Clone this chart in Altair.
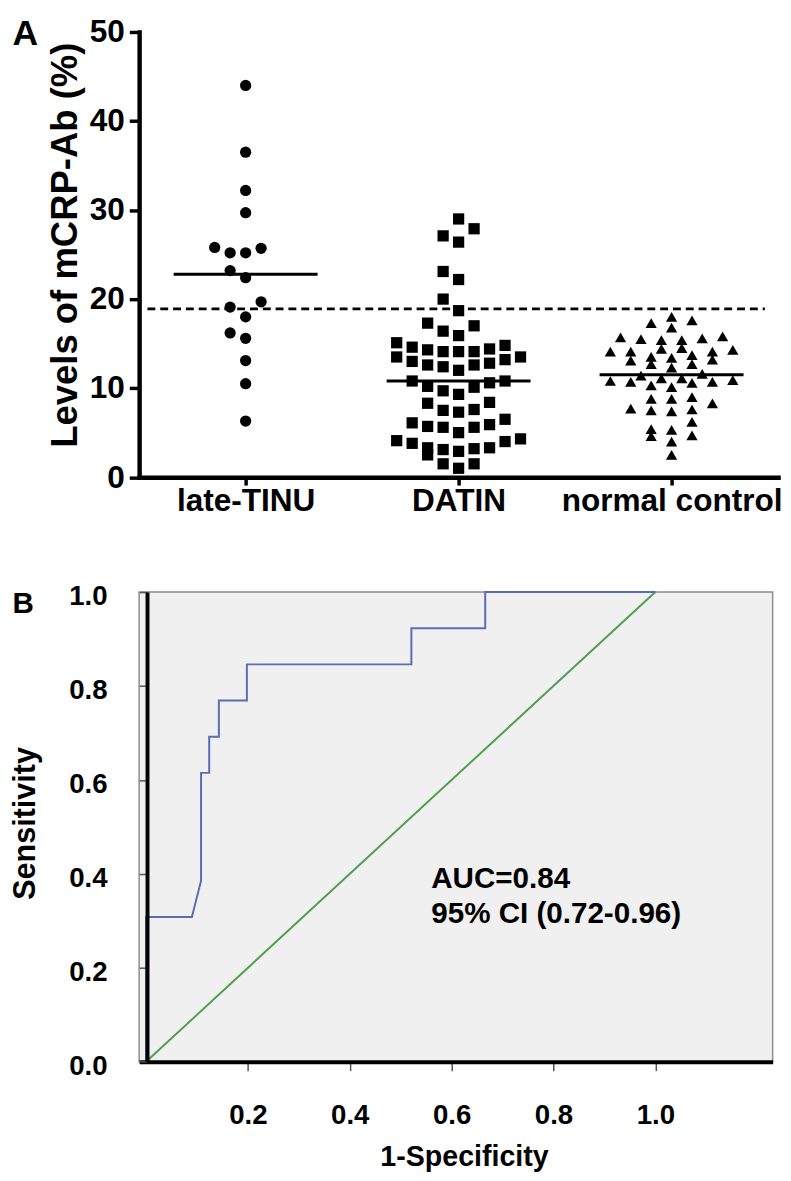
import altair as alt
import numpy as np
import pandas as pd

FONT = "Liberation Sans, Arial, Helvetica, sans-serif"

# ---------------- Panel A data ----------------
GROUPS = ["late-TINU", "DATIN", "normal control"]
LATE_TINU = [44.0, 36.5, 32.2, 29.7, 25.8, 25.7, 25.2, 25.2, 23.2, 22.4, 19.7, 19.1,
             18.0, 16.2, 15.6, 13.1, 10.5, 6.3]
DATIN = [29.0, 27.9, 27.1, 26.4, 23.1, 22.2, 20.0, 18.7, 17.3, 17.0, 16.4, 15.9,
         15.1, 14.8, 14.6, 14.4, 14.3, 14.1, 14.1, 14.1, 13.5, 13.5, 13.2, 13.0,
         12.8, 12.6, 12.6, 12.4, 12.0, 10.8, 10.8, 10.6, 10.2, 10.1, 9.7, 9.3,
         8.4, 8.3, 7.6, 7.5, 7.3, 6.5, 6.1, 5.9, 5.7, 5.6, 5.6, 5.0,
         4.3, 4.1, 4.0, 3.8, 3.3, 3.3, 3.2, 3.1, 2.9, 2.5, 1.5, 1.5, 1.0]
NORMAL_CONTROL = [18.0, 17.6, 17.3, 16.8, 15.8, 15.7, 15.6, 15.5, 15.4, 15.4,
                  14.5, 14.4, 14.3, 14.1, 14.1, 14.1, 13.7, 13.5, 13.4, 13.2,
                  13.1, 12.7, 12.7, 12.3, 11.6, 11.4, 11.1, 11.1, 10.9, 10.8,
                  10.7, 10.7, 10.6, 10.3, 10.1, 9.0, 8.8, 8.8, 8.3, 7.7,
                  7.6, 7.5, 7.4, 6.2, 5.4, 5.3, 4.7, 4.6, 4.0, 2.5]
CUTOFF = 18.9
Y_TICKS_A = [0, 10, 20, 30, 40, 50]
Y_TITLE_A = "Levels of mCRP-Ab (%)"

# ---------------- Panel B data ----------------
ROC_FPR = [0.0, 0.0, 0.090, 0.108, 0.108, 0.124, 0.124, 0.143, 0.143, 0.198,
           0.198, 0.521, 0.521, 0.666, 0.666, 1.0]
ROC_TPR = [0.0, 0.308, 0.308, 0.385, 0.615, 0.615, 0.692, 0.692, 0.769, 0.769,
           0.846, 0.846, 0.923, 0.923, 1.0, 1.0]
CHANCE_FPR = [0.0, 1.0]
CHANCE_TPR = [0.0, 1.0]
X_TICKS_B = [0.2, 0.4, 0.6, 0.8, 1.0]
Y_TICKS_B = [0.0, 0.2, 0.4, 0.6, 0.8, 1.0]
AUC_TEXT = ["AUC=0.84", "95% CI (0.72-0.96)"]
X_TITLE_B = "1-Specificity"
Y_TITLE_B = "Sensitivity"

# ---------------- layout parameters ----------------
A_W, A_H = 648, 451.5
B_W, B_H = 642.5, 476.4
PX_PER_UNIT = A_W / 3.0
# column spacing (px), row span (data units), centre even rows
SWARM = {
    "late-TINU": (15.7, 1.75, False),
    "DATIN": (15.7, 1.75, False),
    "normal control": (20.7, 1.0, True),
}
MEDIAN_HALF = 73.0 / PX_PER_UNIT
B_PX_PER_UNIT = 516.5
B_X0_PX = 7.0   # data 0 sits this many px right of the plot's left edge


def swarm_columns(values, row_span, centre_even):
    vals = np.asarray(values, dtype=float)
    order = np.argsort(vals, kind="stable")
    sv = vals[order]
    cols = np.zeros(len(vals))
    i = 0
    while i < len(sv):
        j = i
        while j < len(sv) and sv[j] - sv[i] < row_span:
            j += 1
        n = j - i
        for k in range(n):
            if centre_even and n % 2 == 0:
                m = k // 2 + 0.5
                off = -m if k % 2 == 0 else m
            else:
                m = (k + 1) // 2
                off = -m if k % 2 == 1 else m
            cols[order[i + k]] = off
        i = j
    return cols


rows = []
for gi, (g, vals) in enumerate(zip(GROUPS, [LATE_TINU, DATIN, NORMAL_CONTROL])):
    step, span, ce = SWARM[g]
    cols = swarm_columns(vals, span, ce)
    centre = gi + 0.5
    for v, c in zip(vals, cols):
        rows.append({"group": g, "value": v, "gx": centre,
                     "x": centre + c * step / PX_PER_UNIT})
df_a = pd.DataFrame(rows)

label_expr = ("datum.value < 1 ? '{0}' : datum.value < 2 ? '{1}' : '{2}'"
              .format(*GROUPS))

x_scale_a = alt.Scale(domain=[0, 3], nice=False, zero=False)
y_scale_a = alt.Scale(domain=[0, 50], nice=False)

x_axis_a = alt.Axis(values=[0.5, 1.5, 2.5], labelExpr=label_expr, grid=False,
                    domainColor="black", domainWidth=4.5, domainCap="square",
                    tickColor="black", tickWidth=3.5, tickSize=8,
                    labelFontSize=32, labelFontWeight="bold", labelPadding=1,
                    labelFlush=False, labelLimit=500)
y_axis_a = alt.Axis(values=Y_TICKS_A, grid=False,
                    domainColor="black", domainWidth=4.5, domainCap="square",
                    tickColor="black", tickWidth=3.5, tickSize=10,
                    labelFontSize=32, labelFontWeight="bold", labelPadding=5,
                    titleFontSize=37, titleFontWeight="bold",
                    titleX=-74.5, titleY=A_H / 2 - 10, titleBaseline="middle")

pts = alt.Chart(df_a).mark_point(filled=True, opacity=1, color="black",
                                 strokeWidth=0).encode(
    x=alt.X("x:Q", scale=x_scale_a, axis=x_axis_a, title=None),
    y=alt.Y("value:Q", scale=y_scale_a, axis=y_axis_a, title=Y_TITLE_A),
    shape=alt.Shape("group:N", scale=alt.Scale(
        domain=GROUPS, range=["circle", "square", "triangle-up"]), legend=None),
    size=alt.Size("group:N", scale=alt.Scale(domain=GROUPS, range=[130, 130, 215]),
                  legend=None),
)

med = alt.Chart(df_a).transform_aggregate(
    median="median(value)", groupby=["group", "gx"]
).transform_calculate(
    x1="datum.gx - %f" % MEDIAN_HALF, x2="datum.gx + %f" % MEDIAN_HALF
).mark_rule(color="black", strokeWidth=3).encode(
    x=alt.X("x1:Q", title=None), x2="x2:Q",
    y=alt.Y("median:Q", title=Y_TITLE_A),
)

cut = alt.Chart(pd.DataFrame({"cutoff": [CUTOFF]})).mark_rule(
    color="black", strokeWidth=3, strokeDash=[8, 5]
).encode(
    y=alt.Y("cutoff:Q", title=Y_TITLE_A),
    x=alt.datum(0.039), x2=alt.datum(2.938),
)

letter_a = alt.Chart(pd.DataFrame({"t": ["A"]})).mark_text(
    font=FONT, fontSize=36, fontWeight="bold", align="left",
    baseline="alphabetic", color="black"
).encode(text="t:N", x=alt.value(-128.5), y=alt.value(13))

panel_a = alt.layer(cut, med, pts, letter_a).properties(
    width=A_W, height=A_H, view=alt.ViewBackground(strokeWidth=0))

# ---------------- Panel B ----------------
df_roc = pd.DataFrame({"fpr": ROC_FPR, "tpr": ROC_TPR, "i": range(len(ROC_FPR))})
df_chance = pd.DataFrame({"fpr": CHANCE_FPR, "tpr": CHANCE_TPR,
                          "i": range(len(CHANCE_FPR))})

b_min = -B_X0_PX / B_PX_PER_UNIT
b_max = (B_W - B_X0_PX) / B_PX_PER_UNIT
x_scale_b = alt.Scale(domain=[b_min, b_max], nice=False, zero=False)
y_scale_b = alt.Scale(domain=[0, 1], nice=False)

x_axis_b = alt.Axis(values=X_TICKS_B, format=".1f", grid=False, zindex=1,
                    domainColor="black", domainWidth=4,
                    tickColor="#555555", tickWidth=1.5, tickSize=9,
                    labelFontSize=28, labelFontWeight="bold", labelPadding=31.6,
                    labelFlush=False,
                    titleFontSize=29, titleFontWeight="bold",
                    titleX=329.5, titleY=105.3, titleBaseline="alphabetic")
y_axis_b = alt.Axis(values=Y_TICKS_B, format=".1f", grid=False, offset=-8,
                    zindex=1,
                    domainColor="black", domainWidth=4,
                    tickColor="#555555", tickWidth=1.5, tickSize=8,
                    labelFontSize=28, labelFontWeight="bold", labelPadding=32.5,
                    labelOffset=5,
                    titleFontSize=31, titleFontWeight="bold",
                    titleX=-123.5, titleY=B_H / 2 - 4, titleBaseline="middle")

chance = alt.Chart(df_chance).mark_line(color="#4f9f4f", strokeWidth=2).encode(
    x=alt.X("fpr:Q", scale=x_scale_b, axis=x_axis_b, title=X_TITLE_B),
    y=alt.Y("tpr:Q", scale=y_scale_b, axis=y_axis_b, title=Y_TITLE_B),
    order="i:Q",
)
roc = alt.Chart(df_roc).mark_line(color="#5a6cb4", strokeWidth=2).encode(
    x=alt.X("fpr:Q", title=X_TITLE_B),
    y=alt.Y("tpr:Q", title=Y_TITLE_B),
    order="i:Q",
)
auc = alt.Chart(pd.DataFrame({"t": ["\n".join(AUC_TEXT)]})).mark_text(
    font=FONT, fontSize=30, fontWeight="bold", align="left",
    baseline="alphabetic", color="black", lineBreak="\n", lineHeight=35
).encode(text="t:N", x=alt.datum(0.56), y=alt.datum(0.369))

letter_b = alt.Chart(pd.DataFrame({"t": ["B"]})).mark_text(
    font=FONT, fontSize=30, fontWeight="bold", align="left",
    baseline="alphabetic", color="black"
).encode(text="t:N", x=alt.value(-128.5), y=alt.value(21.7))

panel_b = alt.layer(chance, roc, auc, letter_b).properties(
    width=B_W, height=B_H,
    view=alt.ViewBackground(fill="#f0f0f0", stroke="#8c8c8c", strokeWidth=1.5))

chart = alt.vconcat(panel_a, panel_b, spacing=66).properties(
    padding={"left": 0, "top": 0, "right": 0, "bottom": 0}
).configure_axis(
    labelFont=FONT, titleFont=FONT, labelColor="black", titleColor="black"
)

chart.save("out.html", embed_options={"renderer": "svg", "actions": False})
